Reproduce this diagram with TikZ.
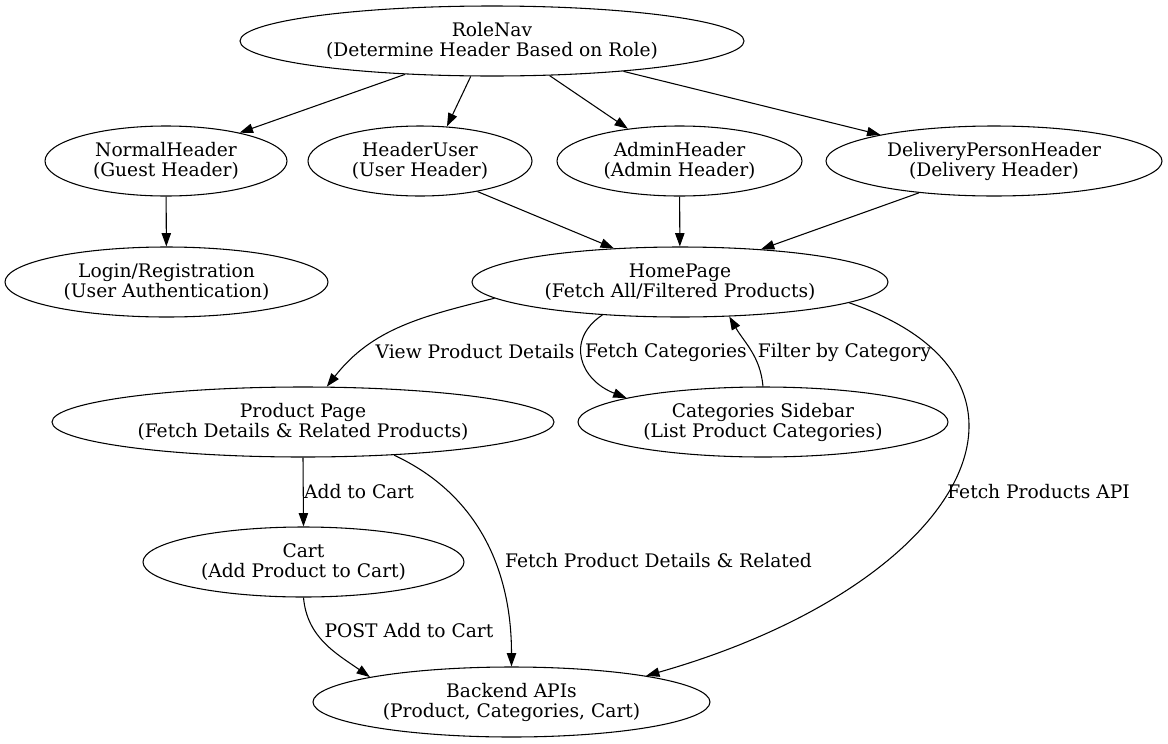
\documentclass[tikz,border=0pt]{standalone}
\usepackage{fontspec}
\setmainfont{DejaVu Serif}
\usetikzlibrary{shapes.geometric,arrows.meta}

\begin{document}
\begin{tikzpicture}[x=.75pt,y=-.75pt,
        box/.style={draw,ellipse,inner sep=0pt,minimum height=52.5pt,align=center,line width=.8pt},
        arr/.style={-{Triangle[length=10pt,width=7pt]},line width=.8pt},
        lbl/.style={inner sep=0pt,align=center},
        font=\fontsize{14}{15}\selectfont]
        \useasboundingbox (0,0) rectangle (1168,743);

        % nodes
        \node[box,minimum width=378pt]    (rolenav)    at (492,41)    {RoleNav\\(Determine Header Based on Role)};
        \node[box,minimum width=181.5pt]  (normal)     at (166,161)   {NormalHeader\\(Guest Header)};
        \node[box,minimum width=168pt]    (headeruser) at (420,161)   {HeaderUser\\(User Header)};
        \node[box,minimum width=183.75pt] (admin)      at (679.5,161) {AdminHeader\\(Admin Header)};
        \node[box,minimum width=252pt]    (delivery)   at (994,161)   {DeliveryPersonHeader\\(Delivery Header)};
        \node[box,minimum width=242.25pt] (login)      at (166.5,282) {Login/Registration\\(User Authentication)};
        \node[box,minimum width=312pt]    (home)       at (680,282)   {HomePage\\(Fetch All/Filtered Products)};
        \node[box,minimum width=376.5pt]  (product)    at (303,422)   {Product Page\\(Fetch Details \& Related Products)};
        \node[box,minimum width=277.5pt]  (sidebar)    at (763,422)   {Categories Sidebar\\(List Product Categories)};
        \node[box,minimum width=240.75pt] (cart)       at (303.5,562) {Cart\\(Add Product to Cart)};
        \node[box,minimum width=297.75pt] (backend)    at (511.5,702) {Backend APIs\\(Product, Categories, Cart)};

        % headers
        \draw[arr] (rolenav.201) -- (normal.21);
        \draw[arr] (rolenav.239) -- (headeruser.52);
        \draw[arr] (rolenav.329) -- (admin.148);
        \draw[arr] (rolenav.347) -- (delivery.167);
        \draw[arr] (normal) -- (login);
        \draw[arr] (headeruser.332) -- (home.153);
        \draw[arr] (admin) -- (home);
        \draw[arr] (delivery.203) -- (home.22);

        % home page
        \draw[arr] (home.185) to[out=194,in=52] (product.56);
        \draw[arr] (home.203) .. controls (565,340) and (580,380) .. (sidebar.170);
        \draw[arr] (sidebar.90) to[out=95,in=300] (home.325);
        \draw[arr] (home.353) .. controls (1075,380) and (965,585) .. (backend.11);

        % product page and cart
        \draw[arr] (product.270) -- (cart.90);
        \draw[arr] (product.340) to[out=335,in=90] (backend.90);
        \draw[arr] (cart.270) to[out=275,in=145] (backend.170);

        % labels
        \node[lbl] (lviewdetails) at (475,352)   {View Product Details};
        \node[lbl] (lfetchcats)   at (666,352)   {Fetch Categories};
        \node[lbl] (lfilter)      at (844.5,352) {Filter by Category};
        \node[lbl] (lfetchapi)    at (1038.5,492) {Fetch Products API};
        \node[lbl] (laddcart)     at (359,492)   {Add to Cart};
        \node[lbl] (lfetchdet)    at (658.5,561) {Fetch Product Details \& Related};
        \node[lbl] (lpost)        at (409,631)   {POST Add to Cart};
\end{tikzpicture}
\end{document}
